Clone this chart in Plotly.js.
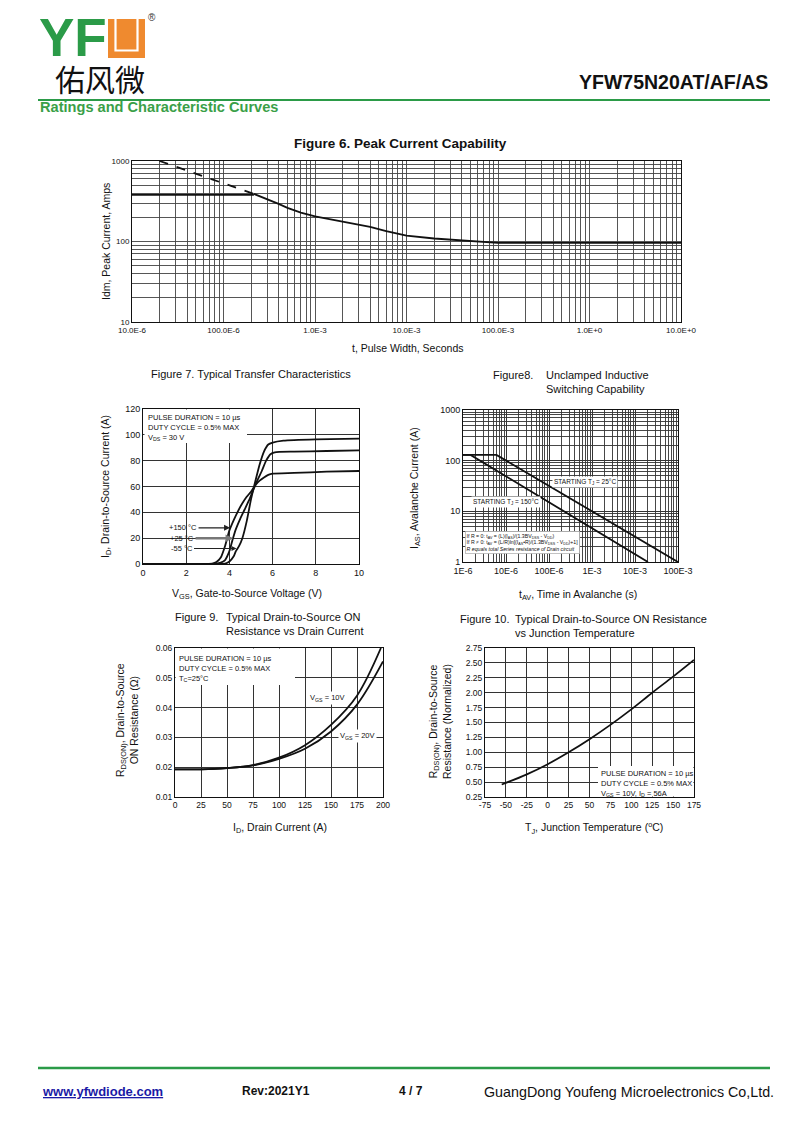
<!DOCTYPE html>
<html><head><meta charset="utf-8">
<script src="https://cdn.plot.ly/plotly-3.0.1.min.js"></script>
<style>html,body{margin:0;padding:0;background:#fff}#chart{width:800px;height:1131px}</style>
</head><body><div id="chart"></div>
<script>
// ---------------- DATA ----------------
// Figure 6: Peak current capability
const fig6_t_flat = [1e-5, 2.15e-4];
const fig6_i_flat = [380, 380];
const fig6_t_dash = [2.0e-5, 2.15e-4];
const fig6_i_dash = [1000, 390];
const fig6_t_curve = [2.15e-4, 3e-4, 4e-4, 5e-4, 7e-4, 1e-3, 1.5e-3, 2e-3, 3e-3, 4e-3, 6e-3, 1e-2, 2e-2, 5e-2, 1e-1, 1, 10];
const fig6_i_curve = [390, 338, 293, 262, 228, 205, 188, 177, 163, 152, 135, 118, 109, 101, 96, 96, 96];
const fig6_xtickvals = [1e-5, 1e-4, 1e-3, 1e-2, 1e-1, 1, 10];
const fig6_xticktext = ['10.0E-6', '100.0E-6', '1.0E-3', '10.0E-3', '100.0E-3', '1.0E+0', '10.0E+0'];
const fig6_ytickvals = [10, 100, 1000];
const fig6_yticktext = ['10', '100', '1000'];

// Figure 7: Transfer characteristics
const fig7_vgs_150 = [0, 3.2, 3.4, 3.6, 3.8, 4.0, 4.2, 4.4, 4.6, 4.8, 5.0, 5.2, 5.4, 5.6, 5.8, 6.0, 7.0, 8.5, 10];
const fig7_id_150  = [0, 0.3, 1.5, 5, 14, 26, 34, 41, 47, 52, 56, 61, 64.5, 67, 69, 70, 70.5, 71.5, 72];
const fig7_vgs_25  = [0, 3.4, 3.6, 3.8, 3.9, 4.0, 4.15, 4.3, 4.5, 4.7, 4.9, 5.1, 5.3, 5.5, 5.7, 5.9, 6.1, 7.0, 8.5, 10];
const fig7_id_25   = [0, 0.2, 1, 3, 6, 10, 19, 27, 35, 42, 49, 57, 65, 72, 80, 85, 86.5, 87, 87.5, 88];
const fig7_vgs_m55 = [0, 3.6, 3.8, 4.0, 4.2, 4.3, 4.45, 4.6, 4.8, 5.0, 5.2, 5.4, 5.6, 5.8, 6.0, 6.5, 8.0, 10];
const fig7_id_m55  = [0, 0, 0.3, 2, 6, 10, 14, 20, 33, 50, 64, 77, 87, 92.5, 94, 95.5, 96.5, 97];
const fig7_xtickvals = [0, 2, 4, 6, 8, 10];
const fig7_ytickvals = [0, 20, 40, 60, 80, 100, 120];

// Figure 8: Unclamped inductive switching
const fig8_t_25  = [1e-6, 6e-6, 1e-1];
const fig8_i_25  = [130, 130, 1];
const fig8_t_150 = [1e-6, 1.5e-6, 2e-2];
const fig8_i_150 = [130, 130, 1];
const fig8_xtickvals = [1e-6, 1e-5, 1e-4, 1e-3, 1e-2, 1e-1];
const fig8_xticktext = ['1E-6', '10E-6', '100E-6', '1E-3', '10E-3', '100E-3'];
const fig8_ytickvals = [1, 10, 100, 1000];
const fig8_yticktext = ['1', '10', '100', '1000'];

// Figure 9: RDS(on) vs drain current
const fig9_id_10 = [0, 25, 50, 75, 100, 125, 150, 175, 198];
const fig9_r_10  = [0.0193, 0.0193, 0.0197, 0.0207, 0.0232, 0.0274, 0.0342, 0.0440, 0.0600];
const fig9_id_20 = [0, 25, 50, 75, 100, 125, 150, 175, 200];
const fig9_r_20  = [0.0193, 0.0193, 0.0197, 0.0206, 0.0228, 0.0262, 0.0320, 0.0410, 0.0555];
const fig9_xtickvals = [0, 25, 50, 75, 100, 125, 150, 175, 200];
const fig9_ytickvals = [0.01, 0.02, 0.03, 0.04, 0.05, 0.06];
const fig9_yticktext = ['0.01', '0.02', '0.03', '0.04', '0.05', '0.06'];

// Figure 10: RDS(on) vs junction temperature
const fig10_tj = [-55, -25, 0, 25, 50, 75, 100, 125, 150, 175];
const fig10_r  = [0.46, 0.63, 0.80, 1.00, 1.22, 1.46, 1.72, 2.00, 2.27, 2.55];
const fig10_xtickvals = [-75, -50, -25, 0, 25, 50, 75, 100, 125, 150, 175];
const fig10_xticktext = ['-75', '-50', '-25', '0', '25', '50', '75', '100', '125', '150', '175'];
const fig10_ytickvals = [0.25, 0.5, 0.75, 1.0, 1.25, 1.5, 1.75, 2.0, 2.25, 2.5, 2.75];
const fig10_yticktext = ['0.25', '0.50', '0.75', '1.00', '1.25', '1.50', '1.75', '2.00', '2.25', '2.50', '2.75'];

// ---------------- HELPERS ----------------
const W = 800, H = 1131;
const FONT = 'Liberation Sans, Arial, sans-serif';
const px = x => x / W;
const py = y => 1 - y / H;
function logMinor(d0, d1) {
  const v = [];
  for (let d = d0; d < d1; d++) for (let m = 2; m <= 9; m++) v.push(m * Math.pow(10, d));
  return v;
}
function dom(a, b) { return [px(a), px(b)]; }
function vdom(top, bot) { return [py(bot), py(top)]; }

const black = '#111';
const lineStyle = {color: black, width: 1.8};

// ---------------- TRACES ----------------
const traces = [
  {x: fig6_t_flat, y: fig6_i_flat, xaxis: 'x', yaxis: 'y', mode: 'lines', line: lineStyle},
  {x: fig6_t_dash, y: fig6_i_dash, xaxis: 'x', yaxis: 'y', mode: 'lines', line: {color: black, width: 1.8, dash: 'dash'}},
  {x: fig6_t_curve, y: fig6_i_curve, xaxis: 'x', yaxis: 'y', mode: 'lines', line: lineStyle},

  {x: fig7_vgs_150, y: fig7_id_150, xaxis: 'x2', yaxis: 'y2', mode: 'lines', line: {color: black, width: 1.8, shape: 'spline', smoothing: 0.5}},
  {x: fig7_vgs_25, y: fig7_id_25, xaxis: 'x2', yaxis: 'y2', mode: 'lines', line: {color: black, width: 1.8, shape: 'spline', smoothing: 0.5}},
  {x: fig7_vgs_m55, y: fig7_id_m55, xaxis: 'x2', yaxis: 'y2', mode: 'lines', line: {color: black, width: 1.8, shape: 'spline', smoothing: 0.5}},

  {x: fig8_t_25, y: fig8_i_25, xaxis: 'x3', yaxis: 'y3', mode: 'lines', line: lineStyle},
  {x: fig8_t_150, y: fig8_i_150, xaxis: 'x3', yaxis: 'y3', mode: 'lines', line: lineStyle},

  {x: fig9_id_10, y: fig9_r_10, xaxis: 'x4', yaxis: 'y4', mode: 'lines', line: {color: black, width: 1.8, shape: 'spline'}},
  {x: fig9_id_20, y: fig9_r_20, xaxis: 'x4', yaxis: 'y4', mode: 'lines', line: {color: black, width: 1.8, shape: 'spline'}},

  {x: fig10_tj, y: fig10_r, xaxis: 'x5', yaxis: 'y5', mode: 'lines', line: {color: black, width: 1.8, shape: 'spline'}}
];

// ---------------- AXES ----------------
function baseAxis(extra) {
  return Object.assign({
    showline: true, linecolor: '#111', linewidth: 1, mirror: true,
    ticks: '', zeroline: false, showgrid: true, gridcolor: '#333', gridwidth: 1,
    tickfont: {family: FONT, size: 9, color: '#111'}, fixedrange: true
  }, extra);
}

const layout = {
  width: W, height: H, margin: {l: 0, r: 0, t: 0, b: 0},
  paper_bgcolor: '#fff', plot_bgcolor: '#fff', showlegend: false, font: {family: FONT, color: '#111'},

  xaxis: baseAxis({type: 'log', range: [-5, 1], domain: dom(132, 681), anchor: 'y',
    tickmode: 'array', tickvals: fig6_xtickvals, ticktext: fig6_xticktext, gridcolor: '#444', gridwidth: 0.9,
    tickfont: {family: FONT, size: 8, color: '#111'},
    minor: {tickmode: 'array', tickvals: logMinor(-5, 1), showgrid: true, gridcolor: '#444', gridwidth: 0.9, ticks: ''}}),
  yaxis: baseAxis({type: 'log', range: [1, 3], domain: vdom(161, 322), anchor: 'x',
    tickmode: 'array', tickvals: fig6_ytickvals, ticktext: fig6_yticktext, gridcolor: '#444', gridwidth: 0.9,
    tickfont: {family: FONT, size: 8, color: '#111'},
    minor: {tickmode: 'array', tickvals: logMinor(1, 3), showgrid: true, gridcolor: '#444', gridwidth: 0.9, ticks: ''}}),

  xaxis2: baseAxis({range: [0, 10], domain: dom(143, 359), anchor: 'y2', tickmode: 'array', tickvals: fig7_xtickvals}),
  yaxis2: baseAxis({range: [0, 120], domain: vdom(409, 564), anchor: 'x2', tickmode: 'array', tickvals: fig7_ytickvals}),

  xaxis3: baseAxis({type: 'log', range: [-6, -1], domain: dom(463, 678), anchor: 'y3',
    tickmode: 'array', tickvals: fig8_xtickvals, ticktext: fig8_xticktext,
    minor: {tickmode: 'array', tickvals: logMinor(-6, -1), showgrid: true, gridcolor: '#333', gridwidth: 0.9, ticks: ''}}),
  yaxis3: baseAxis({type: 'log', range: [0, 3], domain: vdom(410, 562), anchor: 'x3',
    tickmode: 'array', tickvals: fig8_ytickvals, ticktext: fig8_yticktext,
    minor: {tickmode: 'array', tickvals: logMinor(0, 3), showgrid: true, gridcolor: '#333', gridwidth: 0.9, ticks: ''}}),

  xaxis4: baseAxis({range: [0, 200], domain: dom(175, 383), anchor: 'y4', tickmode: 'array', tickvals: fig9_xtickvals,
    tickfont: {family: FONT, size: 8.5, color: '#111'}}),
  yaxis4: baseAxis({range: [0.01, 0.06], domain: vdom(648, 797), anchor: 'x4', tickmode: 'array', tickvals: fig9_ytickvals, ticktext: fig9_yticktext,
    tickfont: {family: FONT, size: 8.5, color: '#111'}}),

  xaxis5: baseAxis({range: [-75, 175], domain: dom(485, 694), anchor: 'y5', tickmode: 'array', tickvals: fig10_xtickvals, ticktext: fig10_xticktext,
    tickfont: {family: FONT, size: 8.5, color: '#111'}}),
  yaxis5: baseAxis({range: [0.25, 2.75], domain: vdom(648, 797), anchor: 'x5', tickmode: 'array', tickvals: fig10_ytickvals, ticktext: fig10_yticktext,
    tickfont: {family: FONT, size: 8.5, color: '#111'}})
};

// ---------------- SHAPES ----------------
const green = '#2b9b48';
const orange = '#ef8a2f';
function rectPx(x0, y0, x1, y1, fill, lineColor, lw) {
  return {type: 'rect', xref: 'paper', yref: 'paper', x0: px(x0), x1: px(x1), y0: py(y1), y1: py(y0),
    fillcolor: fill, line: {color: lineColor || fill, width: lw || 0}, layer: 'above'};
}
function linePx(x0, y0, x1, y1, color, w) {
  return {type: 'line', xref: 'paper', yref: 'paper', x0: px(x0), x1: px(x1), y0: py(y0), y1: py(y1),
    line: {color: color, width: w}, layer: 'above'};
}
layout.shapes = [
  linePx(38, 100, 770, 100, green, 2.2),
  linePx(38, 1068, 770, 1068, green, 2.5),
  rectPx(108, 19, 145, 58, orange),
  {type: 'path', xref: 'paper', yref: 'paper', layer: 'above',
   path: `M ${px(115.5)},${py(19)} L ${px(115.5)},${py(50.5)} L ${px(137.5)},${py(50.5)} L ${px(137.5)},${py(19)}`,
   line: {color: '#fff', width: 2.2}},
  // white text boxes covering grid
  rectPx(144.5, 409.6, 247, 443, '#fff'),
  rectPx(175.6, 648.6, 295, 685, '#fff'),
  rectPx(598, 766, 693.4, 796.4, '#fff')
];

// ---------------- ANNOTATIONS ----------------
function txt(text, x, y, size, opts) {
  return Object.assign({text: text, xref: 'paper', yref: 'paper', x: px(x), y: py(y), showarrow: false,
    xanchor: 'center', yanchor: 'middle', font: {family: FONT, size: size, color: '#111'}}, opts || {});
}
const small = 7.5;
layout.annotations = [
  // header
  txt('<b>YF</b>', 37, 38, 53, {xanchor: 'left', font: {family: FONT, size: 53, color: green}}),
  txt('®', 152, 18, 10, {font: {family: FONT, size: 10, color: '#333'}}),
  txt('佑风微', 100, 78, 30, {font: {family: 'Noto Sans CJK SC', size: 30, color: '#111'}}),
  txt('<b>YFW75N20AT/AF/AS</b>', 770, 82, 19.5, {xanchor: 'right'}),
  txt('<b>Ratings and Characteristic Curves</b>', 38, 107, 14.6, {xanchor: 'left', font: {family: FONT, size: 14.6, color: '#3aa048'}}),

  // Figure 6
  txt('<b>Figure 6. Peak Current Capability</b>', 400, 144, 13.5),
  txt('t, Pulse Width, Seconds', 407, 348, 10.5),
  txt('Idm, Peak Current, Amps', 106, 242, 10.5, {textangle: -90}),

  // Figure 7
  txt('Figure 7. Typical Transfer Characteristics', 251, 374, 11),
  txt('PULSE DURATION = 10 µs<br>DUTY CYCLE = 0.5% MAX<br>V<sub>DS</sub> = 30 V', 146, 411, small, {xanchor: 'left', yanchor: 'top', align: 'left'}),
  {text: '+150 °C', xref: 'x2', yref: 'y2', x: 4.03, y: 28, showarrow: true, ax: -47, ay: 0, arrowhead: 2, arrowsize: 1, arrowwidth: 1.2, arrowcolor: '#222', font: {family: FONT, size: small, color: '#111'}},
  {text: '+25 °C', xref: 'x2', yref: 'y2', x: 4.17, y: 20, showarrow: true, ax: -51, ay: 0, arrowhead: 2, arrowsize: 0.6, arrowwidth: 2.5, arrowcolor: '#777', font: {family: FONT, size: small, color: '#111'}},
  {text: '-55 °C', xref: 'x2', yref: 'y2', x: 4.33, y: 12, showarrow: true, ax: -55, ay: 0, arrowhead: 2, arrowsize: 1, arrowwidth: 1, arrowcolor: '#222', font: {family: FONT, size: small, color: '#111'}},
  txt('V<sub>GS</sub>, Gate-to-Source Voltage (V)', 247, 594, 10.5),
  txt('I<sub>D</sub>, Drain-to-Source Current (A)', 106, 487, 10.5, {textangle: -90}),

  // Figure 8
  txt('Figure8.', 513, 375, 11),
  txt('Unclamped Inductive<br>Switching Capability', 544, 382, 11, {xanchor: 'left', align: 'left'}),
  txt('STARTING T<sub>J</sub> = 25°C', 585, 482, 6.5, {bgcolor: '#fff'}),
  txt('STARTING T<sub>J</sub> = 150°C', 506, 502, 6.5, {bgcolor: '#fff'}),
  txt('If R = 0: t<sub>AV</sub> = (L)(I<sub>AS</sub>)/(1.3BV<sub>DSS</sub> - V<sub>DD</sub>)<br>If R ≠ 0: t<sub>AV</sub> = (L/R)ln[(I<sub>AS</sub>•R)/(1.3BV<sub>DSS</sub> - V<sub>DD</sub>)+1]<br><i>R equals total Series resistance of Drain circuit</i>',
      465, 531, 5.2, {xanchor: 'left', yanchor: 'top', align: 'left', bgcolor: '#fff', bordercolor: '#999', borderwidth: 0.6, borderpad: 1}),
  txt('t<sub>AV</sub>, Time in Avalanche (s)', 578, 595, 10.5),
  txt('I<sub>AS</sub>, Avalanche Current (A)', 415, 488, 10.5, {textangle: -90}),

  // Figure 9
  txt('Figure 9.', 173, 617, 11, {xanchor: 'left'}),
  txt('Typical Drain-to-Source ON<br>Resistance vs Drain Current', 224, 624, 11, {xanchor: 'left', align: 'left'}),
  txt('PULSE DURATION = 10 µs<br>DUTY CYCLE = 0.5% MAX<br>T<sub>C</sub>=25°C', 177, 652, small, {xanchor: 'left', yanchor: 'top', align: 'left'}),
  txt('V<sub>GS</sub> = 10V', 327, 698, small, {bgcolor: '#fff'}),
  txt('V<sub>GS</sub> = 20V', 357, 736, small, {bgcolor: '#fff'}),
  txt('I<sub>D</sub>, Drain Current (A)', 280, 828, 10.5),
  txt('R<sub>DS(ON)</sub>, Drain-to-Source<br>ON Resistance (Ω)', 127, 720, 10.5, {textangle: -90}),

  // Figure 10
  txt('Figure 10.', 458, 619, 11, {xanchor: 'left'}),
  txt('Typical Drain-to-Source ON Resistance<br>vs Junction Temperature', 513, 626, 11, {xanchor: 'left', align: 'left'}),
  txt('PULSE DURATION = 10 µs<br>DUTY CYCLE = 0.5% MAX<br>V<sub>GS</sub> = 10V, I<sub>D</sub> = 56A', 599, 767, small, {xanchor: 'left', yanchor: 'top', align: 'left'}),
  txt('T<sub>J</sub>, Junction Temperature (<sup>o</sup>C)', 594, 828, 10.5),
  txt('R<sub>DS(ON)</sub>, Drain-to-Source<br>Resistance (Normalized)', 440, 722, 10.5, {textangle: -90}),

  // footer
  txt('<b><u>www.yfwdiode.com</u></b>', 40, 1091, 13, {xanchor: 'left', font: {family: FONT, size: 13, color: '#1a1aa6'}}),
  txt('<b>Rev:2021Y1</b>', 240, 1091, 12, {xanchor: 'left'}),
  txt('<b>4 / 7</b>', 411, 1091, 12),
  txt('GuangDong Youfeng Microelectronics Co,Ltd.', 776, 1092, 14.3, {xanchor: 'right'})
];

Plotly.newPlot('chart', traces, layout, {displayModeBar: false, staticPlot: true});
</script>
</body></html>
